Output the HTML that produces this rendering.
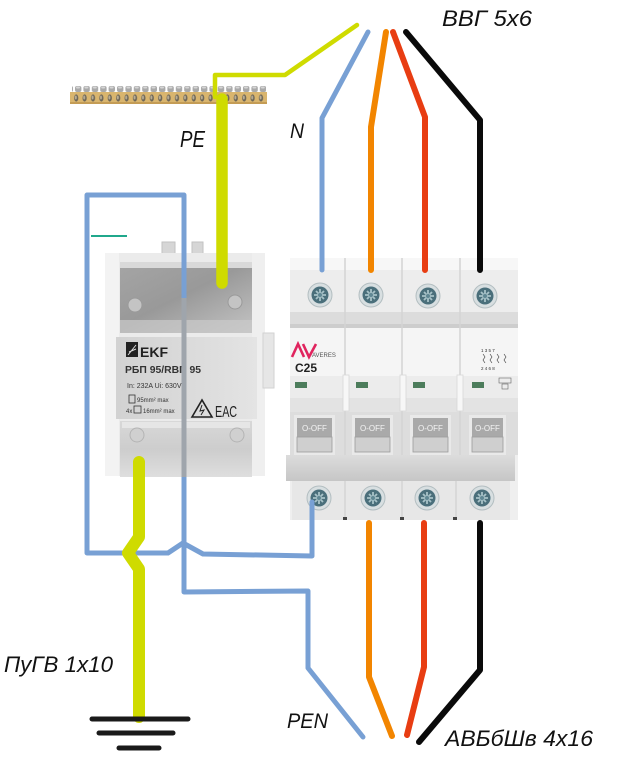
<!DOCTYPE html>
<html><head><meta charset="utf-8"><style>
html,body{margin:0;padding:0;background:#fff;}
svg{display:block;}
text{font-family:"Liberation Sans","DejaVu Sans",sans-serif;}
.lbl{font-style:italic;fill:#111;}
</style></head><body>
<svg width="619" height="782" viewBox="0 0 619 782" xmlns="http://www.w3.org/2000/svg">
<defs>
 <linearGradient id="ekfTop" x1="0" y1="0" x2="1" y2="1">
  <stop offset="0" stop-color="#a4a4a4"/><stop offset="0.45" stop-color="#999"/><stop offset="1" stop-color="#c4c4c4"/>
 </linearGradient>
 <linearGradient id="ekfMid" x1="0" y1="0" x2="1" y2="0">
  <stop offset="0" stop-color="#d2d2d2"/><stop offset="0.6" stop-color="#dcdcdc"/><stop offset="1" stop-color="#e4e4e4"/>
 </linearGradient>
 <linearGradient id="ekfBot" x1="0" y1="0" x2="0" y2="1">
  <stop offset="0" stop-color="#d8d8d8"/><stop offset="0.5" stop-color="#cdcdcd"/><stop offset="1" stop-color="#dedede"/>
 </linearGradient>
 <linearGradient id="bar" x1="0" y1="0" x2="0" y2="1">
  <stop offset="0" stop-color="#dcdcdc"/><stop offset="1" stop-color="#c6c6c6"/>
 </linearGradient>
 <pattern id="holes" patternUnits="userSpaceOnUse" x="72" y="92" width="8.4" height="12">
  <ellipse cx="4.2" cy="6" rx="2.1" ry="3.6" fill="#6d6658"/>
  <ellipse cx="3.8" cy="5.5" rx="1" ry="2" fill="#b9ad94"/>
 </pattern>
 <pattern id="heads" patternUnits="userSpaceOnUse" x="74" y="85" width="8.4" height="8">
  <rect x="1" y="1" width="6.4" height="6" rx="2" fill="#a9a9a9"/>
  <rect x="2" y="1.5" width="4" height="2" rx="1" fill="#d6d6d6"/>
 </pattern>
 <g id="screw">
  <circle r="12" fill="#d8dfe1" stroke="#b3bec1" stroke-width="1"/>
  <circle r="8.5" fill="#4a6f7b"/>
  <path d="M-6,0 H6 M0,-6 V6 M-4,-4 L4,4 M-4,4 L4,-4" stroke="#a7c2c8" stroke-width="1.8"/>
  <circle r="2" fill="#5f8793"/>
 </g>
</defs>

<!-- Busbar -->
<rect x="72" y="85" width="194" height="8" fill="url(#heads)"/>
<rect x="70" y="92" width="197" height="12" fill="#d9b56e"/>
<rect x="70" y="92" width="197" height="12" fill="url(#holes)"/>
<rect x="70" y="102" width="197" height="2" fill="#c49c55"/>

<!-- EKF block -->
<rect x="162" y="242" width="13" height="28" fill="#d6d6d6" stroke="#c2c2c2"/>
<rect x="192" y="242" width="11" height="28" fill="#d6d6d6" stroke="#c2c2c2"/>
<rect x="105" y="253" width="160" height="223" fill="#ebebeb"/>
<rect x="105" y="253" width="14" height="223" fill="#f3f3f3"/>
<rect x="252" y="253" width="13" height="223" fill="#efefef"/>
<rect x="120" y="262" width="132" height="6" fill="#d9d9d9"/>
<rect x="120" y="268" width="132" height="65" fill="url(#ekfTop)"/>
<rect x="120" y="320" width="132" height="13" fill="#cbcbcb" opacity="0.7"/>
<circle cx="135" cy="305" r="7" fill="#c4c4c4" stroke="#9a9a9a"/>
<circle cx="235" cy="302" r="7" fill="#c4c4c4" stroke="#9a9a9a"/>
<rect x="116" y="337" width="141" height="82" fill="url(#ekfMid)"/>
<rect x="126" y="342" width="12" height="15" fill="#222"/>
<path d="M128,355 L136,345 M129,352 L136,349" stroke="#ddd" stroke-width="1"/>
<text x="140" y="357" font-size="14" font-weight="bold" fill="#222">EKF</text>
<text x="125" y="373" font-size="10" font-weight="bold" fill="#333" textLength="76" lengthAdjust="spacingAndGlyphs">РБП 95/RBП 95</text>
<text x="127" y="388" font-size="7" fill="#333">In: 232A  Ui: 630V</text>
<rect x="129" y="395" width="6" height="8" fill="none" stroke="#333" stroke-width="0.8"/>
<text x="137" y="402" font-size="6" fill="#333">95mm² max</text>
<text x="126" y="413" font-size="6" fill="#333">4x</text>
<rect x="134" y="406" width="7" height="7" fill="none" stroke="#333" stroke-width="0.8"/>
<text x="143" y="413" font-size="6" fill="#333">16mm² max</text>
<path d="M192,417 L202,400 L212,417 Z" fill="none" stroke="#222" stroke-width="1.6"/>
<path d="M202,405 L200,411 L204,410 L201,415" fill="none" stroke="#222" stroke-width="1"/>
<text x="215" y="417" font-size="16" fill="#222" textLength="22" lengthAdjust="spacingAndGlyphs">ЕАС</text>
<rect x="120" y="421" width="132" height="56" fill="url(#ekfBot)"/>
<rect x="122" y="422" width="128" height="6" fill="#e6e6e6"/>
<circle cx="137" cy="435" r="7" fill="#d0d0d0" stroke="#b4b4b4"/>
<circle cx="237" cy="435" r="7" fill="#d0d0d0" stroke="#b4b4b4"/>
<rect x="263" y="333" width="11" height="55" fill="#e6e6e6" stroke="#d2d2d2"/>

<!-- Breaker -->
<rect x="290" y="258" width="228" height="262" fill="#efefef"/>
<rect x="290" y="258" width="228" height="12" fill="#f7f7f7"/>
<rect x="290" y="270" width="228" height="42" fill="#ededed"/>
<rect x="290" y="312" width="228" height="12" fill="#dcdcdc"/>
<rect x="290" y="324" width="228" height="4" fill="#cdcdcd"/>
<rect x="290" y="328" width="228" height="48" fill="#f5f5f5"/>
<rect x="290" y="376" width="228" height="22" fill="#ececec"/>
<rect x="290" y="398" width="228" height="14" fill="#e3e3e3"/>
<rect x="290" y="412" width="228" height="43" fill="#dddddd"/>
<g stroke="#d3d3d3" stroke-width="1.5">
 <line x1="345" y1="258" x2="345" y2="455"/><line x1="402" y1="258" x2="402" y2="455"/><line x1="460" y1="258" x2="460" y2="455"/>
</g>
<g fill="#f7f7f7" stroke="#d8d8d8" stroke-width="0.8">
 <rect x="343" y="375" width="6" height="36"/><rect x="400" y="375" width="6" height="36"/><rect x="457" y="375" width="6" height="36"/>
</g>
<g fill="#4d7d5c">
 <rect x="295" y="382" width="12" height="6"/><rect x="356" y="382" width="12" height="6"/>
 <rect x="413" y="382" width="12" height="6"/><rect x="472" y="382" width="12" height="6"/>
</g>
<g>
 <rect x="294" y="415" width="41" height="41" fill="#e9e9e9"/>
 <rect x="352" y="415" width="41" height="41" fill="#e9e9e9"/>
 <rect x="410" y="415" width="41" height="41" fill="#e9e9e9"/>
 <rect x="469" y="415" width="37" height="41" fill="#e9e9e9"/>
 <rect x="297" y="418" width="35" height="19" fill="#a9a9a9"/>
 <rect x="355" y="418" width="35" height="19" fill="#a9a9a9"/>
 <rect x="413" y="418" width="35" height="19" fill="#a9a9a9"/>
 <rect x="472" y="418" width="31" height="19" fill="#a9a9a9"/>
 <rect x="297" y="437" width="35" height="15" fill="#cfcfcf" stroke="#9c9c9c" stroke-width="0.8"/>
 <rect x="355" y="437" width="35" height="15" fill="#cfcfcf" stroke="#9c9c9c" stroke-width="0.8"/>
 <rect x="413" y="437" width="35" height="15" fill="#cfcfcf" stroke="#9c9c9c" stroke-width="0.8"/>
 <rect x="472" y="437" width="31" height="15" fill="#cfcfcf" stroke="#9c9c9c" stroke-width="0.8"/>
 <g font-size="8" fill="#f4f4f4">
  <text x="302" y="431">O-OFF</text><text x="360" y="431">O-OFF</text>
  <text x="418" y="431">O-OFF</text><text x="475" y="431">O-OFF</text>
 </g>
</g>
<rect x="286" y="455" width="229" height="26" fill="url(#bar)"/>
<rect x="292" y="481" width="218" height="39" fill="#e7e7e7"/>
<g stroke="#d0d0d0" stroke-width="1.2">
 <line x1="345" y1="481" x2="345" y2="520"/><line x1="402" y1="481" x2="402" y2="520"/><line x1="456" y1="481" x2="456" y2="520"/>
</g>
<g fill="#444"><rect x="343" y="517" width="4" height="3"/><rect x="400" y="517" width="4" height="3"/><rect x="453" y="517" width="4" height="3"/></g>
<!-- AVERES logo -->
<path d="M292,357 L298,344 L304,357 M303,344 L309,357 L316,344" fill="none" stroke="#e0245e" stroke-width="2.6"/>
<text x="312" y="357" font-size="6" fill="#555">AVERES</text>
<text x="295" y="372" font-size="12" font-weight="bold" fill="#222">C25</text>
<g font-size="4.5" fill="#333">
 <text x="481" y="352">1 3 5 7</text>
 <text x="481" y="370">2 4 6 8</text>
</g>
<path d="M483,354 l2,3 l-2,3 l2,3 M490,354 l2,3 l-2,3 l2,3 M497,354 l2,3 l-2,3 l2,3 M504,354 l2,3 l-2,3 l2,3" fill="none" stroke="#333" stroke-width="0.6"/>
<rect x="499" y="378" width="12" height="5" fill="none" stroke="#666" stroke-width="0.6"/>
<rect x="502" y="384" width="6" height="5" fill="none" stroke="#666" stroke-width="0.6"/>
<use href="#screw" x="320" y="295"/><use href="#screw" x="371" y="295"/>
<use href="#screw" x="428" y="296"/><use href="#screw" x="485" y="296"/>
<use href="#screw" x="319" y="498"/><use href="#screw" x="373" y="498"/>
<use href="#screw" x="427" y="498"/><use href="#screw" x="482" y="498"/>

<!-- Teal mark -->
<line x1="91" y1="236" x2="127" y2="236" stroke="#20a88c" stroke-width="2"/>

<!-- Wires -->
<g fill="none" stroke-linecap="round" stroke-linejoin="round">
 <!-- yellow top -->
 <path d="M357,25 L285,75 L215,75 L215,97" stroke="#cfdb00" stroke-width="4.5"/>
 <path d="M222,99 L222,283" stroke="#cfdb00" stroke-width="11.5"/>
 <!-- blue loop -->
 <path d="M312,502 L312,556 L203,554 L183,543 L168,553 L87,553 L87,195 L184,195 L184,592 L308,591 L308,668 L363,737" stroke="#78a0d4" stroke-width="5"/>
 <line x1="184" y1="298" x2="184" y2="477" stroke="#9fa5ac" stroke-width="5" stroke-linecap="butt"/>
 <!-- yellow bottom -->
 <path d="M139,462 L139,537 L128,553 L139,569 L139,717" stroke="#cfdb00" stroke-width="12"/>
 <!-- top wires -->
 <path d="M368,32 L322,118 L322,270" stroke="#78a0d4" stroke-width="5"/>
 <path d="M386,32 L371,127 L371,270" stroke="#f28500" stroke-width="6"/>
 <path d="M393,32 L425,117 L425,270" stroke="#e83d12" stroke-width="6"/>
 <path d="M406,32 L480,120 L480,270" stroke="#0a0a0a" stroke-width="6"/>
 <!-- bottom wires -->
 <path d="M369,523 L369,677 L392,736" stroke="#f28500" stroke-width="6"/>
 <path d="M424,523 L424,667 L407,735" stroke="#e83d12" stroke-width="6"/>
 <path d="M480,523 L480,670 L419,742" stroke="#0a0a0a" stroke-width="6"/>
 <!-- ground -->
 <g stroke="#1a1a1a" stroke-width="5">
  <line x1="92" y1="719" x2="188" y2="719"/>
  <line x1="99" y1="733" x2="173" y2="733"/>
  <line x1="119" y1="748" x2="159" y2="748"/>
 </g>
</g>

<!-- Labels -->
<text class="lbl" x="442" y="26" font-size="22" textLength="90" lengthAdjust="spacingAndGlyphs">ВВГ 5х6</text>
<text class="lbl" x="180" y="147" font-size="23" textLength="25" lengthAdjust="spacingAndGlyphs">PE</text>
<text class="lbl" x="290" y="138" font-size="21" textLength="14" lengthAdjust="spacingAndGlyphs">N</text>
<text class="lbl" x="4" y="672" font-size="22" textLength="109" lengthAdjust="spacingAndGlyphs">ПуГВ 1х10</text>
<text class="lbl" x="287" y="728" font-size="21" textLength="41" lengthAdjust="spacingAndGlyphs">PEN</text>
<text class="lbl" x="445" y="746" font-size="22" textLength="148" lengthAdjust="spacingAndGlyphs">АВБбШв 4х16</text>
</svg>
</body></html>
